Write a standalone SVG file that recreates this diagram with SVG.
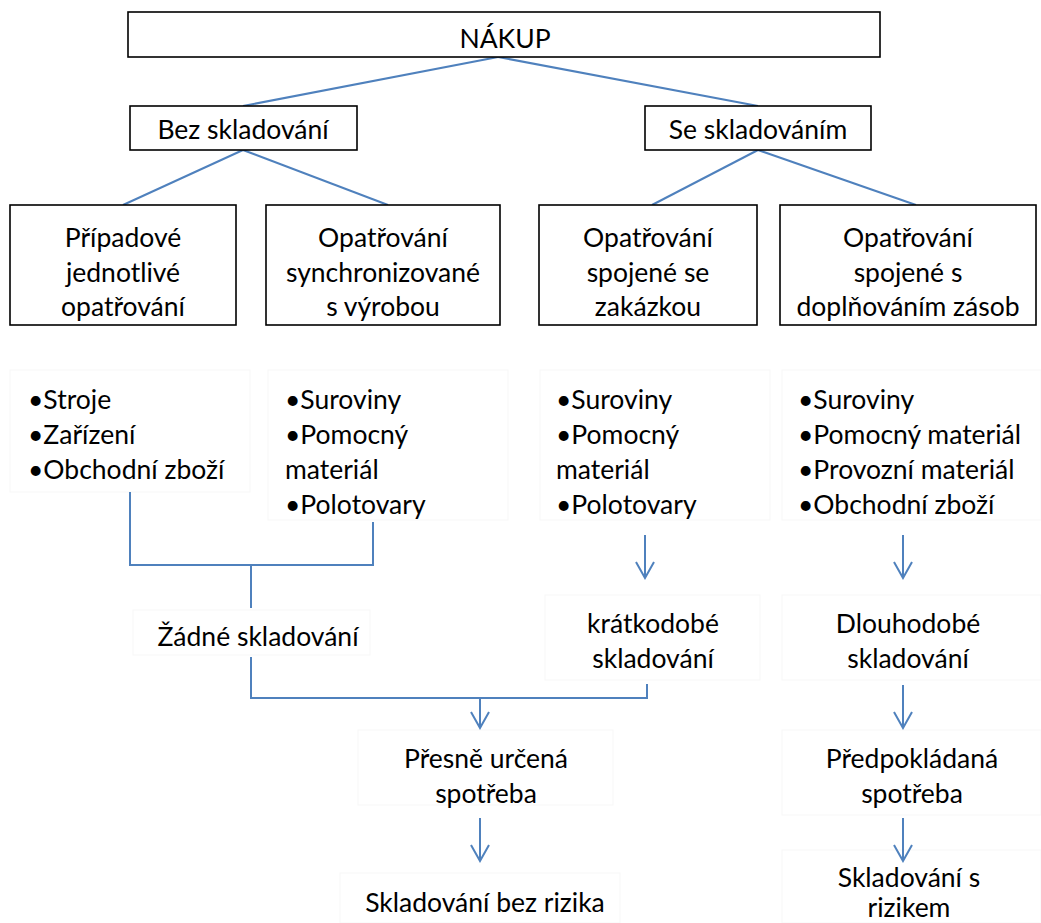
<svg xmlns="http://www.w3.org/2000/svg" width="1041" height="923" viewBox="0 0 1041 923">
<defs>
<style>
.box{fill:#fff;stroke:#000;stroke-width:1.6}
.faint{fill:#fff;stroke:#f7f7f7;stroke-width:1}
.t{font-family:Lato,"Open Sans","Liberation Sans",sans-serif;font-size:26.5px;fill:#000}
.c{text-anchor:middle}
.ln{fill:none;stroke:#4F81BD;stroke-width:2}
</style>
<marker id="arr" viewBox="0 0 20 20" refX="18" refY="10" markerWidth="20" markerHeight="20" markerUnits="userSpaceOnUse" orient="auto">
<path d="M2,1 L18,10 L2,19" fill="none" stroke="#4F81BD" stroke-width="2"/>
</marker>
</defs>
<rect width="1041" height="923" fill="#fff"/>
<g id="faint-boxes">
<rect class="faint" x="10" y="370" width="240" height="122"/>
<rect class="faint" x="268" y="370" width="240" height="150"/>
<rect class="faint" x="540" y="370" width="230" height="150"/>
<rect class="faint" x="782" y="370" width="259" height="150"/>
<rect class="faint" x="133" y="610" width="237" height="45"/>
<rect class="faint" x="545" y="595" width="215" height="85"/>
<rect class="faint" x="782" y="595" width="259" height="85"/>
<rect class="faint" x="358" y="730" width="255" height="75"/>
<rect class="faint" x="782" y="730" width="259" height="85"/>
<rect class="faint" x="340" y="873" width="280" height="50"/>
<rect class="faint" x="782" y="850" width="259" height="73"/>
</g>
<g id="connectors">
<path class="ln" d="M498,57 L243,106"/>
<path class="ln" d="M498,57 L758,106"/>
<path class="ln" d="M243,150 L123,205"/>
<path class="ln" d="M243,150 L388,205"/>
<path class="ln" d="M758,150 L652,205"/>
<path class="ln" d="M758,150 L916,205"/>
<path class="ln" d="M130,492 L130,565 L373,565 L373,522"/>
<path class="ln" d="M251,565 L251,608"/>
<path class="ln" d="M251,657 L251,698 L647,698 L647,684"/>
<path class="ln" d="M480,698 L480,728" marker-end="url(#arr)"/>
<path class="ln" d="M645,535 L645,578" marker-end="url(#arr)"/>
<path class="ln" d="M903,535 L903,578" marker-end="url(#arr)"/>
<path class="ln" d="M903,685 L903,728" marker-end="url(#arr)"/>
<path class="ln" d="M480,818 L480,861" marker-end="url(#arr)"/>
<path class="ln" d="M903,818 L903,861" marker-end="url(#arr)"/>
</g>
<g id="nakup"><rect class="box" x="128" y="12" width="752" height="45"/><text class="t c" x="505" y="48">NÁKUP</text></g>
<g id="bez"><rect class="box" x="130" y="106" width="227" height="44"/><text class="t c" x="243" y="139">Bez skladování</text></g>
<g id="se"><rect class="box" x="645" y="106" width="226" height="44"/><text class="t c" x="758" y="139">Se skladováním</text></g>
<g id="pripadove"><rect class="box" x="10" y="205" width="226" height="120"/><text class="t c" x="123" y="247">Případové</text><text class="t c" x="123" y="282">jednotlivé</text><text class="t c" x="123" y="316">opatřování</text></g>
<g id="synchron"><rect class="box" x="266" y="205" width="234" height="120"/><text class="t c" x="383" y="247">Opatřování</text><text class="t c" x="383" y="282">synchronizované</text><text class="t c" x="383" y="316">s výrobou</text></g>
<g id="zakazka"><rect class="box" x="539" y="205" width="218" height="120"/><text class="t c" x="648" y="247">Opatřování</text><text class="t c" x="648" y="282">spojené se</text><text class="t c" x="648" y="316">zakázkou</text></g>
<g id="doplnovani"><rect class="box" x="780" y="205" width="256" height="120"/><text class="t c" x="908" y="247">Opatřování</text><text class="t c" x="908" y="282">spojené s</text><text class="t c" x="908" y="316">doplňováním zásob</text></g>
<g id="list1"><text class="t" x="28" y="409">•Stroje</text><text class="t" x="28" y="444">•Zařízení</text><text class="t" x="28" y="479">•Obchodní zboží</text></g>
<g id="list2"><text class="t" x="285" y="409">•Suroviny</text><text class="t" x="285" y="444">•Pomocný</text><text class="t" x="285" y="479">materiál</text><text class="t" x="285" y="514">•Polotovary</text></g>
<g id="list3"><text class="t" x="556" y="409">•Suroviny</text><text class="t" x="556" y="444">•Pomocný</text><text class="t" x="556" y="479">materiál</text><text class="t" x="556" y="514">•Polotovary</text></g>
<g id="list4"><text class="t" x="798" y="409">•Suroviny</text><text class="t" x="798" y="444">•Pomocný materiál</text><text class="t" x="798" y="479">•Provozní materiál</text><text class="t" x="798" y="514">•Obchodní zboží</text></g>
<g id="zadne"><text class="t c" x="258" y="646">Žádné skladování</text></g>
<g id="kratkodobe"><text class="t c" x="653" y="633">krátkodobé</text><text class="t c" x="653" y="668">skladování</text></g>
<g id="dlouhodobe"><text class="t c" x="908" y="633">Dlouhodobé</text><text class="t c" x="908" y="668">skladování</text></g>
<g id="presne"><text class="t c" x="486" y="768">Přesně určená</text><text class="t c" x="486" y="803">spotřeba</text></g>
<g id="predpokladana"><text class="t c" x="912" y="768">Předpokládaná</text><text class="t c" x="912" y="803">spotřeba</text></g>
<g id="bezrizika"><text class="t c" x="485" y="912">Skladování bez rizika</text></g>
<g id="srizikem"><text class="t c" x="909" y="887">Skladování s</text><text class="t c" x="909" y="917">rizikem</text></g>
</svg>
